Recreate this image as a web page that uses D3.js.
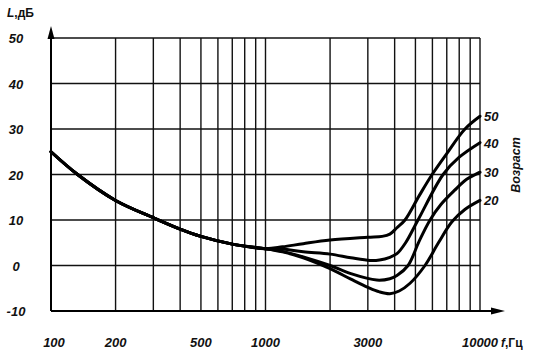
<!DOCTYPE html>
<html lang="ru">
<head>
  <meta charset="UTF-8">
  <title>Hearing threshold by age</title>
  <script src="https://d3js.org/d3.v7.min.js"></script>
  <style>
    body {
      margin: 0;
      background: #fff;
    }
    svg text {
      font-family: "Liberation Sans", Arial, sans-serif;
      fill: #111;
    }
  </style>
</head>
<body>
<script>
  // shared part of the curve (100..1000 Hz)
  const commonFreq = [100, 133, 200, 300, 400, 500, 700, 1000];
  const commonLevel = [25, 20, 14.3, 10.5, 8.0, 6.4, 4.7, 3.7];

  // age curves after the split (Hz)
  const ages = [50, 40, 30, 20];
  const freq50 = [1200, 1500, 2000, 3000, 3500, 3800, 4100, 4470, 5200, 5980, 7000, 8510, 10000];
  const level50 = [4.1, 4.8, 5.6, 6.2, 6.4, 6.9, 8.3, 10, 15.3, 20, 24.6, 30, 32.8];
  const freq40 = [1200, 1500, 2000, 2500, 3070, 3400, 3800, 4100, 4500, 5140, 6730, 8000, 10000];
  const level40 = [3.6, 3.0, 2.5, 1.7, 1.1, 1.2, 1.8, 2.6, 5, 10, 20, 23.8, 27];
  const freq30 = [1200, 1500, 2000, 2500, 3300, 3800, 4100, 4620, 5200, 5850, 6600, 7600, 8700, 10000];
  const level30 = [3.1, 1.9, 0, -1.8, -3.2, -2.9, -2.2, 0, 5.3, 10, 13.5, 16.5, 19, 20.5];
  const freq20 = [1200, 1500, 2000, 2500, 3000, 3400, 3800, 4200, 4720, 5540, 6400, 7400, 8500, 10000];
  const level20 = [3.0, 1.7, -0.7, -3.0, -4.8, -5.8, -6.2, -5.6, -3.9, 0, 5, 9.6, 12.3, 14.3];

  const ageFreq = [freq50, freq40, freq30, freq20];
  const ageLevel = [level50, level40, level30, level20];

  // axis ticks
  const yTicks = [-10, 0, 10, 20, 30, 40, 50];
  const xLabels = [100, 200, 500, 1000, 3000, 10000];
  const xGrid = [200, 300, 400, 500, 600, 700, 800, 900, 1000,
                 2000, 3000, 4000, 5000, 6000, 7000, 8000, 9000, 10000];

  const svg = d3.select("body").append("svg")
    .attr("width", 534)
    .attr("height", 358);

  const x = d3.scaleLog().domain([100, 10000]).range([51, 480]);
  const y = d3.scaleLinear().domain([-10, 50]).range([311, 38]);

  // horizontal grid lines
  svg.append("g")
    .selectAll("line")
    .data(yTicks.filter(d => d > -10))
    .join("line")
    .attr("x1", x(100))
    .attr("x2", x(10000))
    .attr("y1", d => y(d))
    .attr("y2", d => y(d))
    .attr("stroke", "#111")
    .attr("stroke-width", 1.4);

  // vertical grid lines
  svg.append("g")
    .selectAll("line")
    .data(xGrid)
    .join("line")
    .attr("x1", d => x(d))
    .attr("x2", d => x(d))
    .attr("y1", y(50))
    .attr("y2", y(-10))
    .attr("stroke", "#111")
    .attr("stroke-width", 1.4);

  // axes with arrows
  svg.append("line")
    .attr("x1", x(100)).attr("x2", x(100))
    .attr("y1", y(-10)).attr("y2", 30)
    .attr("stroke", "#000").attr("stroke-width", 2);
  svg.append("path")
    .attr("d", `M${x(100)},26 L${x(100) - 3.5},39 L${x(100) + 3.5},39 Z`)
    .attr("fill", "#000");

  svg.append("line")
    .attr("x1", x(100)).attr("x2", 500)
    .attr("y1", y(-10)).attr("y2", y(-10))
    .attr("stroke", "#000").attr("stroke-width", 2);
  svg.append("path")
    .attr("d", `M505,${y(-10)} L491,${y(-10) - 3.5} L491,${y(-10) + 3.5} Z`)
    .attr("fill", "#000");

  // y tick labels
  svg.append("g")
    .selectAll("text")
    .data(yTicks)
    .join("text")
    .attr("x", 16)
    .attr("y", d => y(d) + 5)
    .attr("text-anchor", "middle")
    .style("font-size", "13px")
    .style("font-style", "italic")
    .style("font-weight", "bold")
    .text(d => d);

  // x tick labels
  svg.append("g")
    .selectAll("text")
    .data(xLabels)
    .join("text")
    .attr("x", d => x(d) + (d === 100 ? 3 : 0))
    .attr("y", 347)
    .attr("text-anchor", "middle")
    .style("font-size", "13px")
    .style("font-style", "italic")
    .style("font-weight", "bold")
    .text(d => d);

  // axis titles
  const yTitle = svg.append("text")
    .attr("x", 7).attr("y", 17)
    .style("font-size", "12px")
    .style("font-weight", "bold");
  yTitle.append("tspan").style("font-style", "italic").text("L");
  yTitle.append("tspan").text(",дБ");

  const xTitle = svg.append("text")
    .attr("x", 501).attr("y", 347)
    .style("font-size", "12px")
    .style("font-weight", "bold");
  xTitle.append("tspan").style("font-style", "italic").text("f");
  xTitle.append("tspan").text(",Гц");

  // curves
  const line = d3.line()
    .x(d => x(d[0]))
    .y(d => y(d[1]))
    .curve(d3.curveCatmullRom.alpha(0.5));

  ages.forEach((age, i) => {
    const pts = commonFreq.map((f, j) => [f, commonLevel[j]])
      .concat(ageFreq[i].map((f, j) => [f, ageLevel[i][j]]));

    svg.append("path")
      .datum(pts)
      .attr("d", line)
      .attr("fill", "none")
      .attr("stroke", "#000")
      .attr("stroke-width", 3)
      .attr("stroke-linecap", "round");

    const last = pts[pts.length - 1];
    svg.append("text")
      .attr("x", x(last[0]) + 4)
      .attr("y", y(last[1]) + 5)
      .style("font-size", "13px")
      .style("font-style", "italic")
      .style("font-weight", "bold")
      .text(age);
  });

  // legend title
  svg.append("text")
    .attr("transform", "translate(520,165) rotate(-90)")
    .attr("text-anchor", "middle")
    .style("font-size", "12.5px")
    .style("font-style", "italic")
    .style("font-weight", "bold")
    .text("Возраст");
</script>
</body>
</html>
